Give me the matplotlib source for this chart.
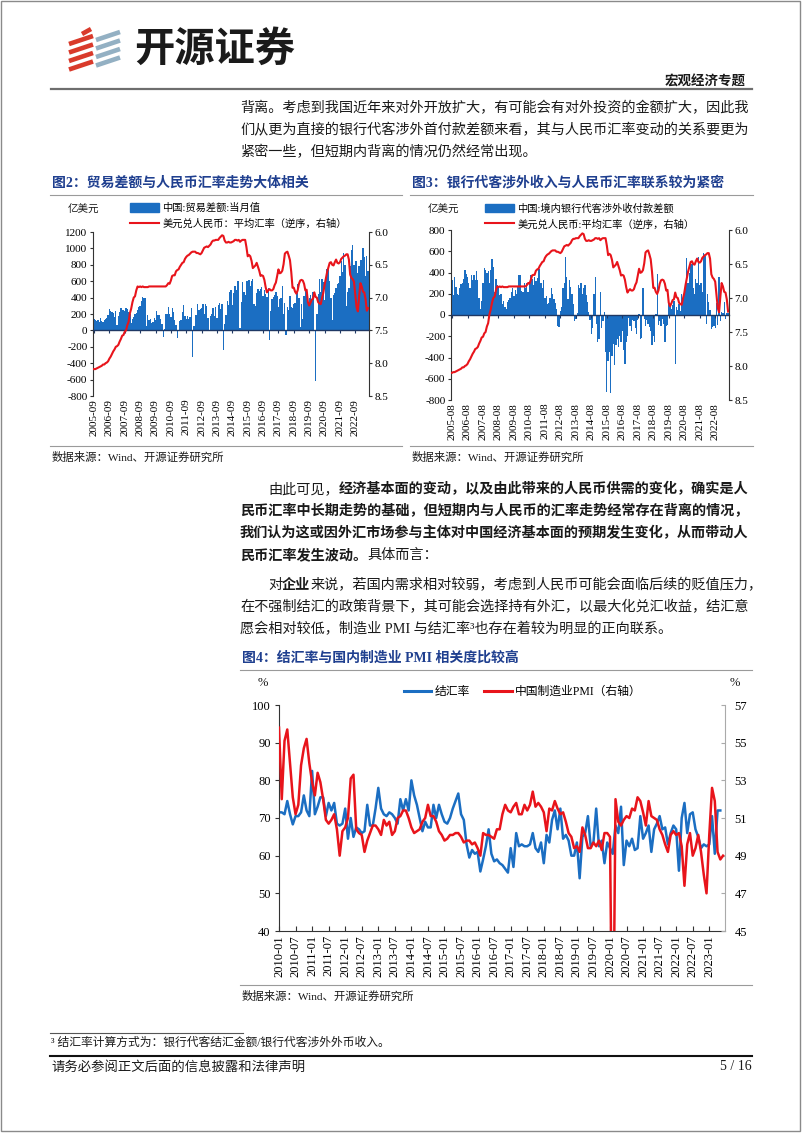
import numpy as np
import matplotlib
matplotlib.use("Agg")
import matplotlib.pyplot as plt
from matplotlib.lines import Line2D
from matplotlib.patches import Patch, Rectangle
from matplotlib.ticker import FormatStrFormatter

plt.rcParams['font.family'] = ['Liberation Serif', 'Noto Sans CJK SC', 'DejaVu Sans']
plt.rcParams['axes.unicode_minus'] = False

BLUE = '#1B6EC2'
RED = '#E8141B'
NAVY = '#1F3F8F'
INK = '#1A1A1A'

# ---- 图2: 中国贸易差额当月值 (亿美元), 2005-09 ~ 2023-07
trade_balance = (
    [140, 125, 120, 130] +
    [100, 150, 110, 105, 130, 145, 150, 190, 255, 240, 230, 210] +
    [160, 237, 70, 170, 224, 270, 245, 250, 240, 270, 263, 228] +
    [195, 90, 134, 167, 203, 214, 252, 287, 294, 353, 410, 400] +
    [391, 50, 186, 131, 133, 90, 106, 157, 129, 240, 191, 184] +
    [142, 76, -80, 17, 195, 200, 287, 200, 169, 271, 229, 131] +
    [65, -90, 10, 114, 130, 222, 315, 179, 145, 170, 145, 165] +
    [272, -330, 53, 184, 187, 317, 251, 266, 276, 320, 196, 316] +
    [292, 153, -10, 181, 204, 271, 178, 286, 152, 311, 338, 256] +
    [318, -240, 77, 185, 359, 315, 473, 498, 309, 454, 545, 496] +
    [600, 607, 30, 341, 590, 465, 430, 603, 603, 617, 541, 601] +
    [628, 326, 298, 455, 500, 481, 502, 524, 420, 490, 446, 407] +
    [514, -120, 239, 380, 407, 428, 467, 420, 284, 381, 401, 546] +
    [202, 336, -60, 287, 250, 416, 280, 279, 317, 340, 446, 570] +
    [391, 41, 326, 138, 417, 510, 450, 348, 397, 428, 387, 468] +
    [0, -620, 200, 450, 630, 465, 623, 589, 370, 585, 754, 781] +
    [600, 400, 130, 430, 455, 515, 565, 583, 667, 845, 717, 944] +
    [800, 300, 473, 511, 787, 980, 1040, 794, 847, 852, 698, 780] +
    [860, 860, 1000, 900, 660, 910, 720]
)
trade_ticks = [f'{y}-09' for y in range(2005, 2023)]

# ---- 图3: 境内银行代客涉外收付款差额 (亿美元), 2005-08 ~ 2023-06
bank_net = (
    [330, 190, 360, 260, 200] +
    [190, 250, 290, 300, 340, 420, 390, 360, 300, 250, 380, 330] +
    [375, 330, 410, 330, 160, 60, 130, 300, 440, 420, 400, 410] +
    [300, 420, 530, 450, 220, 340, 280, 250, 190, 200, 100, 130] +
    [80, 60, 120, 140, 160, 220, 250, 180, 240, 200, 260, 380] +
    [380, 230, 220, 300, 250, 300, 220, 310, 380, 340, 280, 360] +
    [320, 350, 430, 430, 300, 250, 330, 160, 180, 100, 110, 160] +
    [250, 200, 150, 110, 60, -100, -110, 40, 80, 250, 300, 550] +
    [360, 150, 330, 260, 200, 100, -60, -40, 20, 280, 250, 300] +
    [200, 250, 280, 190, 120, 30, -50, -180, -120, 200, 360, -80] +
    [-250, -230, 220, -120, -60, 30, -345, -720, -430, -350, -735, -390] +
    [-270, -470, -280, -230, -300, -200, -250, -150, -330, -460, -250, -200] +
    [-30, -100, -150, -50, -60, -120, -180, -50, 10, -230, -220, 250] +
    [-40, -100, -50, -80, -110, -150, -280, -200, -250, 10, 390, -90] +
    [-60, -100, -40, -80, -250, -100, -90, 120, 100, 60, 90, 130] +
    [-460, 80, 50, 100, 40, 200, 150, 230, 250, 540, 300, 400] +
    [500, 480, 250, 200, 340, 300, 550, 280, 300, 220, 580, 560] +
    [-80, 200, 120, 50, -130, -110, -100, -120, 110, -90, 360, -60] +
    [30, 20, 120, -40, 20, 20]
)
bank_ticks = [f'{y}-08' for y in range(2005, 2023)]

# ---- 美元兑人民币平均汇率, 2005-08 ~ 2023-07
usdcny = (
    [8.10, 8.09, 8.09, 8.08, 8.07] +
    [8.06, 8.05, 8.04, 8.02, 8.02, 8.00, 7.99, 7.97, 7.93, 7.90, 7.86, 7.82] +
    [7.79, 7.75, 7.74, 7.72, 7.67, 7.63, 7.58, 7.57, 7.52, 7.50, 7.42, 7.37] +
    [7.24, 7.17, 7.07, 7.00, 6.98, 6.89, 6.83, 6.84, 6.83, 6.84, 6.83, 6.84] +
    [6.84, 6.84, 6.84, 6.83, 6.83, 6.83, 6.83, 6.83, 6.83, 6.83, 6.83, 6.83] +
    [6.83, 6.83, 6.83, 6.83, 6.83, 6.81, 6.78, 6.79, 6.74, 6.67, 6.66, 6.66] +
    [6.60, 6.58, 6.57, 6.53, 6.50, 6.47, 6.46, 6.41, 6.38, 6.36, 6.35, 6.33] +
    [6.31, 6.30, 6.30, 6.30, 6.32, 6.32, 6.33, 6.34, 6.32, 6.28, 6.24, 6.23] +
    [6.22, 6.23, 6.21, 6.19, 6.15, 6.13, 6.13, 6.12, 6.12, 6.12, 6.09, 6.07] +
    [6.05, 6.06, 6.13, 6.16, 6.16, 6.15, 6.16, 6.16, 6.15, 6.14, 6.12, 6.12] +
    [6.13, 6.12, 6.15, 6.13, 6.12, 6.12, 6.12, 6.23, 6.37, 6.35, 6.37, 6.44] +
    [6.55, 6.53, 6.51, 6.47, 6.53, 6.59, 6.67, 6.66, 6.67, 6.73, 6.84, 6.92] +
    [6.89, 6.87, 6.89, 6.89, 6.87, 6.81, 6.77, 6.67, 6.57, 6.63, 6.62, 6.59] +
    [6.49, 6.33, 6.31, 6.30, 6.36, 6.43, 6.61, 6.85, 6.85, 6.91, 6.94, 6.89] +
    [6.79, 6.74, 6.73, 6.74, 6.79, 6.89, 6.88, 7.07, 7.12, 7.08, 7.03, 7.02] +
    [6.92, 6.99, 7.00, 7.07, 7.09, 7.10, 7.01, 6.93, 6.81, 6.71, 6.61, 6.54] +
    [6.47, 6.46, 6.50, 6.51, 6.46, 6.42, 6.47, 6.48, 6.46, 6.41, 6.39, 6.37] +
    [6.36, 6.34, 6.34, 6.42, 6.65, 6.70, 6.72, 6.76, 6.95, 7.15, 7.21, 6.98] +
    [6.78, 6.83, 6.91, 6.92, 7.02, 7.20, 7.16]
)
usdcny_trade = usdcny[1:]    # 2005-09 ~ 2023-07
usdcny_bank = usdcny[:-1]    # 2005-08 ~ 2023-06

# ---- 图4: 结汇率 (%) 与 制造业PMI, 2010-01 起
settle_rate = (
    [71.5, 71.5, 71.0, 74.5, 71.0, 68.3, 70.5, 70.5, 71.5, 76.0, 72.0, 70.5] +
    [82.5, 71.0, 73.0, 75.5, 75.5, 70.5, 74.0, 72.0, 74.0, 68.5, 68.0, 68.5] +
    [72.5, 64.5, 70.0, 65.0, 67.5, 67.0, 66.0, 66.5, 73.5, 68.0, 68.0, 72.5] +
    [78.0, 72.5, 71.0, 70.5, 71.5, 71.0, 70.0, 68.5, 75.0, 72.0, 75.0, 72.0] +
    [80.0, 76.0, 73.5, 70.0, 66.5, 69.0, 67.5, 67.5, 73.5, 70.0, 73.5, 71.0] +
    [69.0, 68.5, 70.0, 72.5, 74.5, 76.5, 71.0, 69.5, 63.0, 59.5, 61.5, 60.5] +
    [61.0, 55.8, 59.0, 62.5, 67.0, 60.5, 58.5, 59.0, 58.0, 57.5, 56.5, 55.5] +
    [62.0, 57.0, 66.0, 62.5, 63.0, 62.5, 62.5, 63.0, 66.0, 62.0, 61.0, 63.5] +
    [58.0, 65.5, 63.5, 69.5, 72.0, 67.0, 72.5, 64.5, 65.5, 64.0, 60.0, 60.0] +
    [63.5, 54.0, 65.0, 66.0, 70.5, 62.5, 63.5, 72.5, 62.5, 64.0, 58.0, 63.5] +
    [62.0, 60.5, 68.0, 66.0, 73.0, 57.5, 64.0, 62.5, 64.5, 61.5, 62.0, 70.5] +
    [64.5, 66.0, 68.0, 61.0, 67.0, 68.5, 70.5, 67.0, 67.5, 63.0, 66.0, 68.0] +
    [67.0, 56.0, 70.0, 74.0, 66.0, 71.0, 71.5, 67.0, 65.0, 62.0, 63.0, 62.5] +
    [63.0, 70.5, 60.5, 72.0, 72.0]
)
pmi = (
    [55.8, 52.0, 55.1, 55.7, 53.9, 52.1, 51.2, 51.7, 53.8, 54.7, 55.2, 53.9] +
    [52.9, 52.2, 53.4, 52.9, 52.0, 50.9, 50.7, 50.9, 51.2, 50.4, 49.0, 50.3] +
    [50.5, 51.0, 53.1, 53.3, 50.4, 50.2, 50.1, 49.2, 49.8, 50.2, 50.6, 50.6] +
    [50.4, 50.1, 50.9, 50.6, 50.8, 50.1, 50.3, 51.0, 51.1, 51.4, 51.4, 51.0] +
    [50.5, 50.2, 50.3, 50.4, 50.8, 51.0, 51.7, 51.1, 51.1, 50.8, 50.3, 50.1] +
    [49.8, 49.9, 50.1, 50.1, 50.2, 50.2, 50.0, 49.7, 49.8, 49.8, 49.6, 49.7] +
    [49.4, 49.0, 50.2, 50.1, 50.1, 50.0, 49.9, 50.4, 50.4, 51.2, 51.7, 51.4] +
    [51.3, 51.6, 51.8, 51.2, 51.2, 51.7, 51.4, 51.7, 52.4, 51.6, 51.8, 51.6] +
    [51.3, 50.3, 51.5, 51.4, 51.9, 51.5, 51.2, 51.3, 50.8, 50.2, 50.0, 49.4] +
    [49.5, 49.2, 50.5, 50.1, 49.4, 49.4, 49.7, 49.5, 49.8, 49.3, 50.2, 50.2] +
    [50.0, 35.7, 52.0, 50.8, 50.6, 50.9, 51.1, 51.0, 51.5, 51.4, 52.1, 51.9] +
    [51.3, 50.6, 51.9, 51.1, 51.0, 50.9, 50.4, 50.1, 49.6, 49.2, 50.1, 50.3] +
    [50.1, 50.2, 49.5, 47.4, 49.6, 50.2, 49.0, 49.4, 50.1, 49.2, 48.0, 47.0] +
    [50.1, 52.6, 51.9, 49.2, 48.8, 49.0]
)
pmi_ticks = [f'{2010 + k // 2}-{"01" if k % 2 == 0 else "07"}' for k in range(27)]

W, H = 802, 1133
fig = plt.figure(figsize=(W / 100, H / 100), dpi=100)


def fx(x):
    return x / W


def fy(y):
    return 1 - y / H


def txt(x, y, s, size, bold=False, color=INK, ha='left'):
    fig.text(fx(x), fy(y), s, fontsize=size, fontweight='bold' if bold else 'normal',
             color=color, ha=ha, va='center')


def rule(x0, x1, y, lw=0.8, color='#9A9A9A'):
    fig.add_artist(Line2D([fx(x0), fx(x1)], [fy(y), fy(y)], lw=lw, color=color))


# page frame
fig.add_artist(Rectangle((fx(1), fy(1131)), fx(799), (1130) / H, fill=False, ec='#8A8A8A', lw=1))

# logo
for k in range(4):
    yk = 40 + 8.5 * k
    fig.add_artist(Line2D([fx(69), fx(93)], [fy(yk + 4), fy(yk - 4)], lw=3.3, color='#D93A2B', solid_capstyle='butt'))
    fig.add_artist(Line2D([fx(96), fx(120)], [fy(yk), fy(yk - 8)], lw=3.3, color='#93B0C3', solid_capstyle='butt'))
fig.add_artist(Line2D([fx(82), fx(91)], [fy(34), fy(29)], lw=3.3, color='#D93A2B', solid_capstyle='butt'))
txt(134, 50, '开源证券', 29, bold=True, color='#1A1A1A')
txt(746, 82, '宏观经济专题', 9.7, bold=True, ha='right')
rule(51, 752, 89, lw=1.6, color='#6E6E6E')

BODY = 10.2
CH = 14.17  # width of one full-width character in px
para1 = ['背离。考虑到我国近年来对外开放扩大，有可能会有对外投资的金额扩大，因此我',
         '们从更为直接的银行代客涉外首付款差额来看，其与人民币汇率变动的关系要更为',
         '紧密一些，但短期内背离的情况仍然经常出现。']
for i, line in enumerate(para1):
    txt(240, 108 + 22 * i, line, BODY)

# figure 2 / figure 3 headers
txt(52, 183, '图2：贸易差额与人民币汇率走势大体相关', 10, bold=True, color=NAVY)
txt(412, 183, '图3：银行代客涉外收入与人民币汇率联系较为紧密', 10, bold=True, color=NAVY)
rule(50, 402, 195)
rule(410, 753, 195)
rule(50, 402, 446)
rule(410, 753, 446)
txt(52, 457, '数据来源：Wind、开源证券研究所', 8.2)
txt(412, 457, '数据来源：Wind、开源证券研究所', 8.2)
txt(68, 210, '亿美元', 7.6)
txt(428, 210, '亿美元', 7.6)

TICK = 8


def bar_panel(box, values, rate, tick_labels, ylim, yticks, labels, legend_x):
    l, r, t, b = box
    ax = fig.add_axes([fx(l), fy(b), (r - l) / W, (b - t) / H])
    x = np.arange(len(values))
    ax.bar(x, values, width=1.0, color=BLUE, linewidth=0)
    ax.set_xlim(-0.8, len(values) - 0.3)
    ax.set_ylim(*ylim)
    ax.set_yticks(yticks)
    ax.spines['top'].set_visible(False)
    ax.spines['right'].set_visible(False)
    ax.spines['left'].set_color('#333333')
    ax.spines['bottom'].set_position(('data', 0))
    ax.spines['bottom'].set_color('#1F3864')
    ax.spines['bottom'].set_linewidth(1.0)
    tick_pos = np.arange(len(tick_labels)) * 12
    ax.set_xticks(tick_pos)
    ax.tick_params(axis='x', labelbottom=False, direction='out', length=2.5, color='#1F3864')
    ax.tick_params(axis='y', direction='out', length=2.5, pad=1.5, labelsize=TICK, color='#333333')
    sec = ax.secondary_xaxis('bottom')
    sec.set_xticks(tick_pos, tick_labels)
    sec.spines['bottom'].set_visible(False)
    sec.tick_params(axis='x', length=0, pad=2, labelsize=TICK, labelrotation=90)

    axr = ax.twinx()
    axr.plot(x, rate, color=RED, lw=1.5)
    axr.set_ylim(8.5, 6.0)
    axr.set_yticks([6.0, 6.5, 7.0, 7.5, 8.0, 8.5])
    axr.yaxis.set_major_formatter(FormatStrFormatter('%.1f'))
    for s in ['top', 'left', 'bottom']:
        axr.spines[s].set_visible(False)
    axr.spines['right'].set_color('#333333')
    axr.tick_params(axis='y', direction='out', length=2.5, pad=1.5, labelsize=TICK, color='#333333')

    fig.legend(handles=[Patch(color=BLUE), Line2D([], [], color=RED, lw=1.5)], labels=labels,
               loc='upper left', bbox_to_anchor=(fx(legend_x), fy(203)), frameon=False,
               fontsize=7.4, handlelength=2.8, handleheight=0.9, handletextpad=0.35,
               labelspacing=0.55, borderpad=0, borderaxespad=0)
    return ax


bar_panel((93, 369, 232, 396), trade_balance, usdcny_trade, trade_ticks, (-800, 1200),
          range(-800, 1201, 200), ['中国:贸易差额:当月值', '美元兑人民币：平均汇率（逆序，右轴）'], 130)
bar_panel((451, 729, 230, 400), bank_net, usdcny_bank, bank_ticks, (-800, 800),
          range(-800, 801, 200), ['中国:境内银行代客涉外收付款差额', '美元兑人民币:平均汇率（逆序，右轴）'], 485)

# body paragraph 2
y0 = 489
txt(268, y0, '由此可见，', BODY)
txt(268 + 5 * CH, y0, '经济基本面的变动，以及由此带来的人民币供需的变化，确实是人', BODY, bold=True)
txt(240, y0 + 22, '民币汇率中长期走势的基础，但短期内与人民币的汇率走势经常存在背离的情况，', BODY, bold=True)
txt(240, y0 + 44, '我们认为这或因外汇市场参与主体对中国经济基本面的预期发生变化，从而带动人', BODY, bold=True)
txt(240, y0 + 66, '民币汇率发生波动。', BODY, bold=True)
txt(240 + 9 * CH, y0 + 66, '具体而言：', BODY)

y1 = 585
txt(268, y1, '对', BODY)
txt(268 + CH, y1, '企业', BODY, bold=True)
txt(268 + 3 * CH, y1, '来说，若国内需求相对较弱，考虑到人民币可能会面临后续的贬值压力，', BODY)
txt(240, y1 + 22, '在不强制结汇的政策背景下，其可能会选择持有外汇，以最大化兑汇收益，结汇意', BODY)
txt(240, y1 + 44, '愿会相对较低，制造业 PMI 与结汇率³也存在着较为明显的正向联系。', BODY)

# figure 4
txt(242, 658, '图4：结汇率与国内制造业 PMI 相关度比较高', 10, bold=True, color=NAVY)
rule(240, 752, 670)
txt(263, 683, '%', 9, ha='center')
txt(735, 683, '%', 9, ha='center')

ax4 = fig.add_axes([fx(279), fy(931), (725 - 279) / W, (931 - 705) / H])
ax4.plot(np.arange(len(settle_rate)), settle_rate, color=BLUE, lw=1.8)
ax4.set_xlim(0, 161.7)
ax4.set_ylim(40, 100)
ax4.set_yticks(range(40, 101, 10))
ax4.set_xticks(np.arange(len(pmi_ticks)) * 6)
ax4.set_xticklabels(pmi_ticks, rotation=90)
ax4.tick_params(axis='x', direction='in', length=3.5, pad=3, labelsize=9, color='#333333')
ax4.tick_params(axis='y', direction='out', length=3, pad=3, labelsize=9, color='#333333')
ax4.spines['top'].set_visible(False)
ax4.spines['right'].set_visible(False)
ax4.spines['left'].set_color('#333333')
ax4.spines['bottom'].set_color('#333333')

ax4r = ax4.twinx()
ax4r.plot(np.arange(len(pmi)), pmi, color=RED, lw=1.8)
ax4r.set_ylim(45, 57)
ax4r.set_yticks(range(45, 58, 2))
for s in ['top', 'left', 'bottom']:
    ax4r.spines[s].set_visible(False)
ax4r.spines['right'].set_color('#AAAAAA')
ax4r.tick_params(axis='y', direction='in', length=3, pad=7, labelsize=9, color='#AAAAAA')

fig.legend(handles=[Line2D([], [], color=BLUE, lw=2.2), Line2D([], [], color=RED, lw=2.2)],
           labels=['结汇率', '中国制造业PMI（右轴）'], loc='center',
           bbox_to_anchor=(fx(523), fy(692)), ncol=2, frameon=False, fontsize=8.5,
           handlelength=2.3, handletextpad=0.3, columnspacing=1.2, borderpad=0, borderaxespad=0)

rule(240, 752, 985)
txt(242, 996, '数据来源：Wind、开源证券研究所', 8.2)

# footnote and footer
rule(50, 243, 1033, lw=0.8, color='#555555')
txt(51, 1043, '³ 结汇率计算方式为：银行代客结汇金额/银行代客涉外外币收入。', 8.5)
rule(50, 752, 1056, lw=1.5, color='#111111')
txt(51, 1067, '请务必参阅正文后面的信息披露和法律声明', 9.6)
txt(752, 1067, '5 / 16', 10, ha='right')

fig.savefig('out.png', dpi=100)
